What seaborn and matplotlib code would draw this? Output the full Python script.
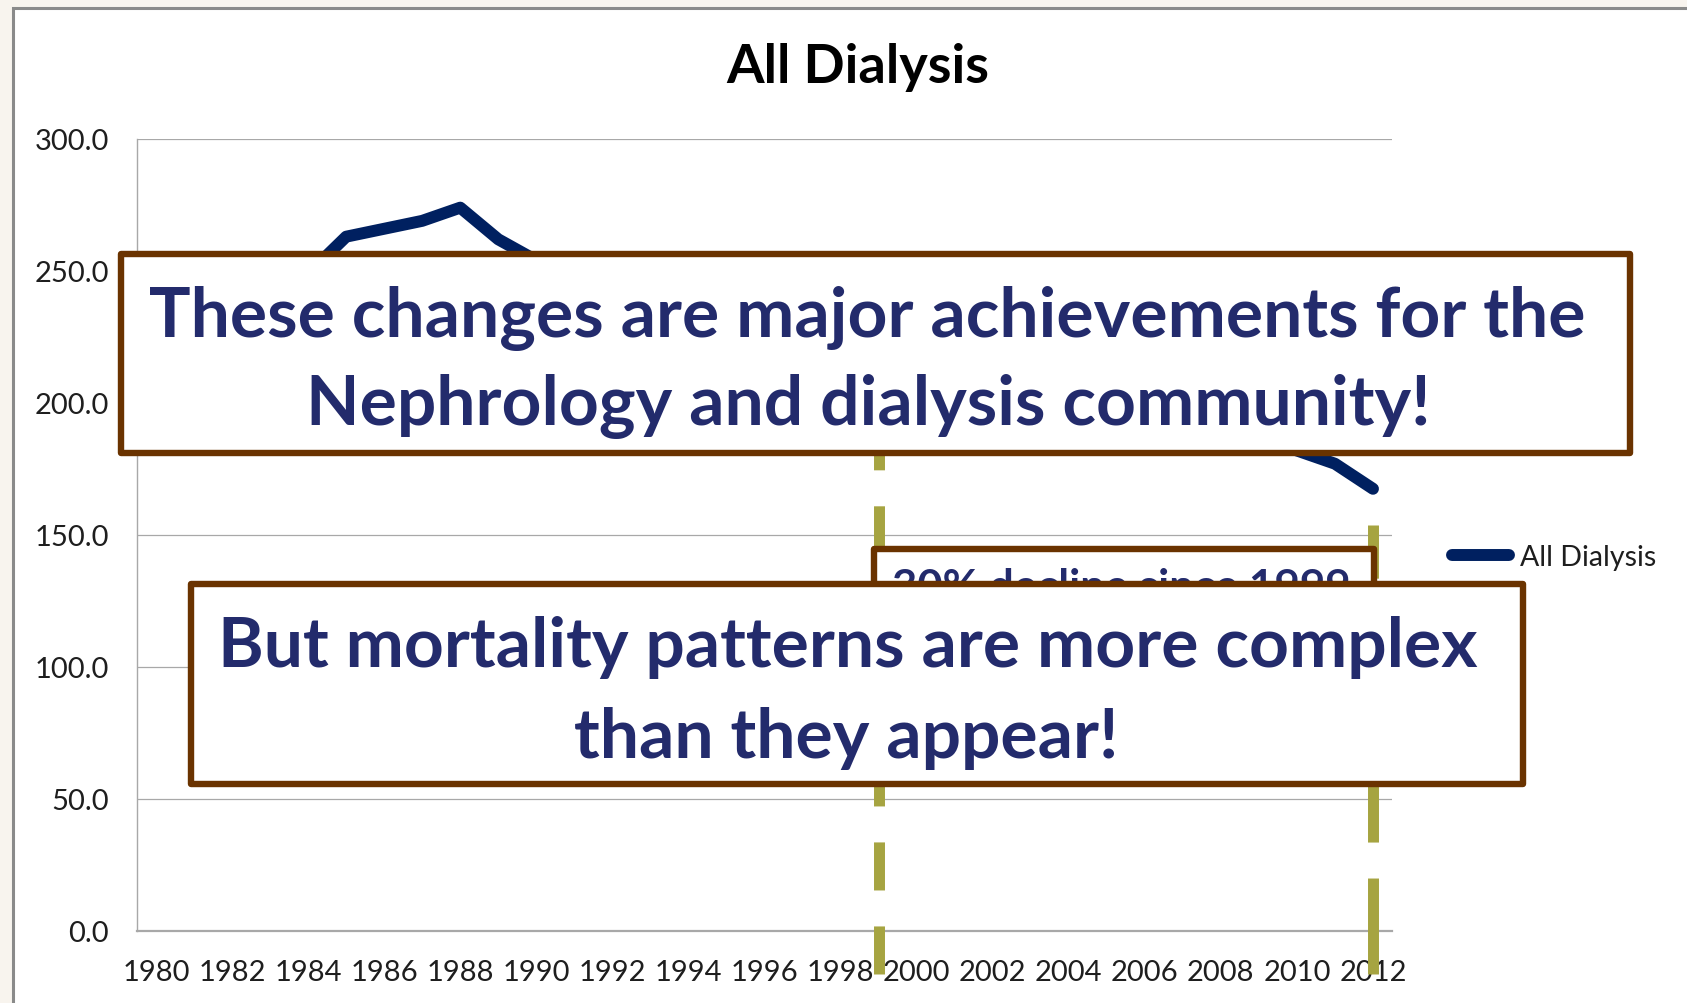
import numpy as np
import pandas as pd
import matplotlib
matplotlib.use("Agg")
import matplotlib.pyplot as plt
from matplotlib.patches import Rectangle
import seaborn as sns

# %% Data
years = list(range(1980, 2013))
mortality = [232, 238, 243, 247, 249, 263, 266, 269, 274, 262,
             254, 250, 248, 247, 246, 245, 244, 243, 242, 240,
             236, 233, 229, 224, 219, 213, 207, 200, 193, 187,
             182, 177, 167.5]
series_name = "All Dialysis"
marker_years = [1999, 2012]
y_ticks = [0, 50, 100, 150, 200, 250, 300]
x_label_years = list(range(1980, 2013, 2))

box_top_lines = ["These changes are major achievements for the",
                 "Nephrology and dialysis community!"]
box_bottom_lines = ["But mortality patterns are more complex",
                    "than they appear!"]
box_small_text = "30% decline since 1999"

df = pd.DataFrame({"year": years, "rate": mortality})

# %% Style
sns.set_style("white")
plt.rcParams['font.family'] = ['Lato', 'DejaVu Sans']
plt.rcParams['lines.scale_dashes'] = False

W, H = 1687, 1004
navy = "#002060"
olive = "#A6A441"
brown = "#6A3300"
text_navy = "#232B6C"
grid_col = "#A8A8A8"

def fx(px):
    return px / W

def fy(py):
    return 1 - py / H

fig = plt.figure(figsize=(W / 100, H / 100), dpi=100, facecolor="#F8F4EE")

# white slide panel with grey frame
fig.add_artist(Rectangle((fx(12.5), -0.05), 1.1, fy(8.5) + 0.05, transform=fig.transFigure,
                         facecolor="white", edgecolor="#8A8A8A", linewidth=2.2, zorder=-5))

ax = fig.add_axes([fx(137), fy(932), fx(1392) - fx(137), fy(140) - fy(932)])
ax.set_facecolor("none")

# %% Main line
sns.lineplot(data=df, x="year", y="rate", ax=ax, color=navy, linewidth=8.6,
             label=series_name, solid_capstyle="round", solid_joinstyle="round", zorder=3)

# dashed markers (extend below the axis, drawn bottom-up so the dash starts at the bottom)
ax.plot([marker_years[0]] * 2, [-16.3, 193], color=olive, linewidth=7.9,
        dashes=(34.6, 25.9), dash_capstyle="butt", clip_on=False, zorder=4)
ax.plot([marker_years[1]] * 2, [-16.3, 153.8], color=olive, linewidth=7.9,
        dashes=(69.1, 25.9), dash_capstyle="butt", clip_on=False, zorder=4)

# %% Axes
ax.set_xlim(1979.5, 2012.5)
ax.set_ylim(0, 300)
ax.set_yticks(y_ticks)
ax.set_yticklabels([f"{v:.1f}" for v in y_ticks])
ax.set_xticks(x_label_years)
ax.set_xticklabels([str(y) for y in x_label_years])
ax.set_xticks(np.arange(1979.5, 2013, 1), minor=True)
ax.tick_params(axis="x", which="major", length=0, pad=20, labelsize=21, labelcolor="#1E1E1E")
ax.tick_params(axis="x", which="minor", length=7.5, width=1, color=grid_col, direction="out")
ax.tick_params(axis="y", length=8, width=1, color=grid_col, direction="out", pad=12,
               labelsize=21, labelcolor="#1E1E1E")
ax.grid(axis="y", color=grid_col, linewidth=0.9)
ax.grid(axis="x", visible=False)
ax.set_xlabel("")
ax.set_ylabel("")
for side in ["top", "right"]:
    ax.spines[side].set_visible(False)
ax.spines["left"].set_color(grid_col)
ax.spines["left"].set_linewidth(1)
ax.spines["bottom"].set_color(grid_col)
ax.spines["bottom"].set_linewidth(1.6)

leg = ax.legend(loc="center left", bbox_to_anchor=(fx(1452), fy(558)), bbox_transform=fig.transFigure,
                frameon=False, borderpad=0, borderaxespad=0, handlelength=2.0, handletextpad=0.4,
                fontsize=20.5)
for t in leg.get_texts():
    t.set_color("#1E1E1E")

fig.text(fx(858), fy(68), series_name, ha="center", va="center", fontsize=39,
         fontweight="bold", color="black")

# %% Callout boxes (figure level, drawn above the chart)
def callout(x0, y0, x1, y1, z):
    fig.add_artist(Rectangle((fx(x0), fy(y1)), fx(x1) - fx(x0), fy(y0) - fy(y1),
                             transform=fig.transFigure, facecolor="white", edgecolor=brown,
                             linewidth=4.6, joinstyle="round", zorder=z))

callout(873.5, 549.5, 1373.5, 660, 5)
fig.text(fx(1121), fy(601), box_small_text, ha="center", va="baseline", fontsize=31.5,
         fontweight="bold", color=text_navy, zorder=5.1)

callout(191, 584.5, 1523, 785, 6)
fig.text(fx(848), fy(642), box_bottom_lines[0], ha="center", va="center_baseline", fontsize=50,
         fontweight="bold", color=text_navy, zorder=6.1)
fig.text(fx(846), fy(732), box_bottom_lines[1], ha="center", va="center_baseline", fontsize=50,
         fontweight="bold", color=text_navy, zorder=6.1)

callout(121, 255, 1630, 454, 7)
fig.text(fx(867), fy(312), box_top_lines[0], ha="center", va="center_baseline", fontsize=50,
         fontweight="bold", color=text_navy, zorder=7.1)
fig.text(fx(868), fy(400), box_top_lines[1], ha="center", va="center_baseline", fontsize=50,
         fontweight="bold", color=text_navy, zorder=7.1)

fig.savefig("out.png", dpi=100, facecolor=fig.get_facecolor())
